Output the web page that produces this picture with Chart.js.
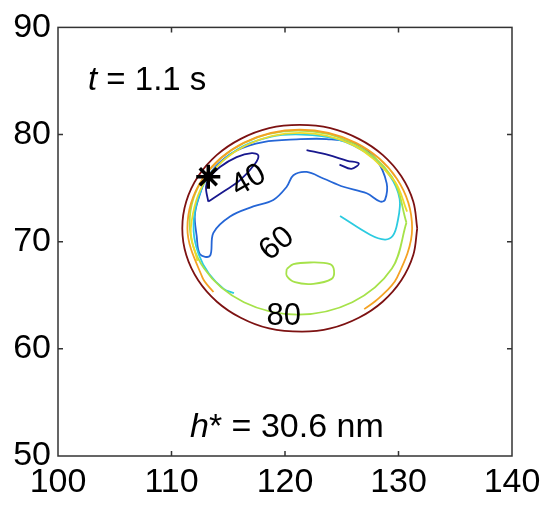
<!DOCTYPE html>
<html>
<head>
<meta charset="utf-8">
<script src="https://cdn.jsdelivr.net/npm/chart.js@4"></script>
<style>
html, body { margin: 0; padding: 0; background: #fff; }
</style>
</head>
<body>
<canvas id="myChart" width="547" height="508"></canvas>
<script>
// axis ticks
const xTicks = [100, 110, 120, 130, 140];
const yTicks = [50, 60, 70, 80, 90];

// contour lines (x in 100..140, y in 50..90)
const brownX = [131.65, 131.3, 130.25, 128.6, 126.5, 124.0, 121.3, 118.6, 116.1, 114.0, 112.35, 111.3, 110.95, 111.3, 112.35, 114.0, 116.1, 118.6, 121.5, 124.0, 126.5, 128.6, 130.25, 131.3, 131.65];
const brownY = [71.25, 73.75, 76.1, 78.1, 79.6, 80.6, 80.9, 80.6, 79.6, 78.1, 76.1, 73.75, 71.25, 68.75, 66.4, 64.4, 62.9, 61.9, 61.6, 61.9, 62.9, 64.4, 66.4, 68.75, 71.25];

const orangeX = [113.7, 112.73, 111.4, 112.73, 116.35, 121.3, 126.25, 129.87, 131.2, 129.87, 128.3, 126.98];
const orangeY = [65.3, 66.65, 71.25, 75.85, 79.22, 80.45, 79.22, 75.85, 71.25, 66.65, 64.75, 63.71];

const yellowX = [112.28, 111.7, 112.99, 116.5, 121.3, 126.1, 129.61, 130.76];
const yellowY = [68.2, 71.25, 75.7, 78.96, 80.15, 78.96, 75.7, 72.8];

const greenX = [130.7, 129.42, 125.93, 121.15, 116.38, 112.88, 111.6, 112.88, 116.38, 121.15, 125.93, 129.42, 130.7];
const greenY = [71.78, 76.07, 79.21, 80.36, 79.21, 76.07, 71.78, 67.49, 64.35, 63.2, 64.35, 67.49, 71.78];

const greenSmallX = [120.15, 120.74, 122.2, 123.97, 124.32, 124.11, 122.5, 120.88, 120.15, 120.15];
const greenSmallY = [67.45, 67.91, 68.06, 67.91, 67.3, 66.53, 66.07, 66.22, 66.83, 67.45];

const cyanX = [115.5, 114.6, 113.3, 112.4, 111.95, 112.2, 113.2, 115.8, 118.8, 121.5, 124.5, 127.3, 129.2, 130.1, 129.9, 129.5, 128.8, 127.5, 124.85];
const cyanY = [65.2, 65.6, 67.0, 68.8, 71.0, 73.5, 76.0, 78.6, 79.8, 80.0, 79.6, 78.2, 76.2, 74.0, 71.75, 70.55, 70.2, 70.65, 72.4];

const blueX = [112.8, 112.07, 112.22, 112.51, 113.39, 113.69, 115.16, 117.21, 118.97, 120.15, 120.74, 121.91, 123.38, 125.14, 127.2, 128.37, 128.81, 128.96, 128.08, 126.32, 123.67, 121.03, 118.09, 115.74, 113.98, 112.8];
const blueY = [75.4, 72.67, 70.52, 68.83, 68.68, 70.83, 72.36, 73.29, 73.9, 75.13, 76.2, 76.51, 75.9, 75.13, 74.52, 73.75, 73.9, 75.44, 77.59, 79.12, 79.58, 79.55, 79.3, 78.51, 77.13, 75.4];

const navyX = [113.24, 114.56, 116.04, 117.36, 117.65, 117.07, 115.74, 114.27, 113.39, 113.04, 113.24];
const navyY = [73.75, 74.67, 75.74, 77.28, 78.05, 78.27, 77.9, 76.98, 76.06, 75.13, 73.75];

const navy2X = [121.9, 123.8, 125.5, 126.5, 125.85, 124.8];
const navy2Y = [78.55, 78.1, 77.55, 77.3, 76.8, 77.2];

// marked point
const starX = [113.24];
const starY = [76.06];

// contour labels
const levelText = ['40', '60', '80'];
const levelX = [116.8, 119.3, 119.9];
const levelY = [75.7, 69.8, 63.0];
const levelAngle = [-30, -40, 0];

function pts(xs, ys) {
    return xs.map((x, i) => ({x: x, y: ys[i]}));
}

function contour(xs, ys, color) {
    return {
        data: pts(xs, ys),
        showLine: true,
        borderColor: color,
        borderWidth: 1.8,
        pointRadius: 0,
        tension: 0.35,
        fill: false
    };
}

const FONT = '"Liberation Sans", Arial, sans-serif';

const framePlugin = {
    id: 'frame',
    afterDraw(chart) {
        const ctx = chart.ctx;
        const a = chart.chartArea;
        const sx = chart.scales.x, sy = chart.scales.y;
        ctx.save();
        ctx.strokeStyle = '#333';
        ctx.lineWidth = 1.5;
        ctx.strokeRect(a.left, a.top, a.right - a.left, a.bottom - a.top);
        ctx.beginPath();
        xTicks.slice(1, -1).forEach(v => {
            const px = sx.getPixelForValue(v);
            ctx.moveTo(px, a.bottom); ctx.lineTo(px, a.bottom - 5);
            ctx.moveTo(px, a.top); ctx.lineTo(px, a.top + 5);
        });
        yTicks.slice(1, -1).forEach(v => {
            const py = sy.getPixelForValue(v);
            ctx.moveTo(a.left, py); ctx.lineTo(a.left + 5, py);
            ctx.moveTo(a.right, py); ctx.lineTo(a.right - 5, py);
        });
        ctx.stroke();

        // contour labels
        ctx.fillStyle = '#000';
        ctx.font = '31px ' + FONT;
        ctx.textAlign = 'center';
        ctx.textBaseline = 'middle';
        levelText.forEach((t, i) => {
            ctx.save();
            ctx.translate(sx.getPixelForValue(levelX[i]), sy.getPixelForValue(levelY[i]));
            ctx.rotate(levelAngle[i] * Math.PI / 180);
            ctx.fillText(t, 0, 0);
            ctx.restore();
        });

        // annotations
        ctx.textAlign = 'left';
        ctx.textBaseline = 'alphabetic';
        let x = a.left + 30;
        ctx.font = 'italic 33px ' + FONT;
        ctx.fillText('t', x, 90);
        x += ctx.measureText('t').width;
        ctx.font = '33px ' + FONT;
        ctx.fillText(' = 1.1 s', x, 90);

        x = a.left + 132;
        ctx.font = 'italic 34px ' + FONT;
        ctx.fillText('h', x, 437);
        x += ctx.measureText('h').width;
        ctx.font = '34px ' + FONT;
        ctx.fillText('* = 30.6 nm', x, 437);
        ctx.restore();
    }
};

const data = {
    datasets: [
        contour(brownX, brownY, '#7d1212'),
        contour(orangeX, orangeY, '#f4a224'),
        contour(yellowX, yellowY, '#ecdc2c'),
        contour(greenX, greenY, '#a6e24a'),
        contour(greenSmallX, greenSmallY, '#a6e24a'),
        contour(cyanX, cyanY, '#2ccbe0'),
        contour(blueX, blueY, '#2566d6'),
        contour(navyX, navyY, '#18188e'),
        contour(navy2X, navy2Y, '#18188e'),
        {
            data: pts(starX, starY),
            order: -1,
            pointStyle: 'star',
            pointRadius: 12,
            pointBorderColor: '#000',
            pointBackgroundColor: '#000',
            pointBorderWidth: 3.5,
            showLine: false
        }
    ]
};

const config = {
    type: 'scatter',
    data: data,
    options: {
        responsive: false,
        animation: false,
        layout: {padding: {top: 22, right: 35, left: 0, bottom: 0}},
        plugins: {legend: {display: false}, tooltip: {enabled: false}},
        scales: {
            x: {
                type: 'linear', min: 100, max: 140,
                afterBuildTicks: s => { s.ticks = xTicks.map(v => ({value: v})); },
                ticks: {color: '#000', font: {family: FONT, size: 34}, padding: 6, maxRotation: 0},
                grid: {drawOnChartArea: false, drawTicks: false},
                border: {display: false},
                afterFit: s => { s.height = 52; }
            },
            y: {
                type: 'linear', min: 50, max: 90,
                afterBuildTicks: s => { s.ticks = yTicks.map(v => ({value: v})); },
                ticks: {color: '#000', font: {family: FONT, size: 34}, padding: 7},
                grid: {drawOnChartArea: false, drawTicks: false},
                border: {display: false},
                afterFit: s => { s.width = 58; }
            }
        }
    },
    plugins: [framePlugin]
};

const myChart = new Chart(document.getElementById('myChart'), config);
</script>
</body>
</html>
